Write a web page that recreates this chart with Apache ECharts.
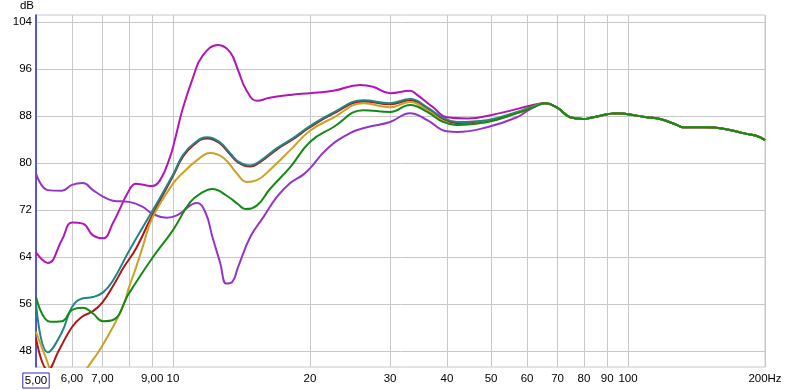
<!DOCTYPE html>
<html>
<head>
<meta charset="utf-8">
<script src="https://cdn.jsdelivr.net/npm/echarts@6/dist/echarts.min.js"></script>
<style>html,body{margin:0;padding:0;background:#fff}#c{width:800px;height:390px}</style>
</head>
<body>
<div id="c"></div>
<script>
// Tick positions / labels
const xTickHz = [5,6,7,8,9,10,20,30,40,50,60,70,80,90,100,200];
const xLabelHz = [5,6,7,9,10,20,30,40,50,60,70,80,90,100,200];
const yTickDb = [48,56,64,72,80,88,96,104];

// Shared high-frequency tail (curves converge)
const tailHz = [65.7,70,74.6,79.7,83.8,90,94.6,100,110,117.6,128,132,149,163,179,192,200];
const tailDb = [90.2,89.4,87.8,87.5,87.8,88.3,88.5,88.3,87.8,87.5,86.5,86.1,86.1,85.8,85.1,84.6,83.9];

const magentaHz = [5.0,5.31,5.70,6.0,6.34,6.67,7.02,7.38,8.0,8.29,8.6,9.0,9.37,9.85,10.1,10.5,11.07,11.6,12.56,13.35,13.9,14.5,15.3,16.3,18.1,20,22.5,25.8,27.5,30,33.2,34.4,37.3,40,44.3,52.3,61.8];
const magentaDb = [64.8,63.0,66.9,69.9,69.7,67.7,67.2,69.8,75.3,76.5,76.3,76.1,77.1,81.0,84.0,89.2,94.6,98.2,100.1,98.9,95.8,92.4,90.6,91.1,91.6,91.9,92.3,93.3,93.0,91.9,92.3,91.6,89.5,87.8,87.6,88.5,89.9];

const purpleHz = [5.0,5.31,5.70,6.0,6.34,6.67,7.02,7.38,8.0,8.6,9.0,9.68,10.2,11.3,11.8,12.2,12.7,13.1,13.5,13.9,14.8,15.8,16.9,18.1,19.3,20,21.8,24.5,26.7,30,33.2,36.2,40,42.1,49,57,61];
const purpleDb = [78.2,75.4,75.3,76.3,76.6,75.4,74.3,73.6,73.4,72.5,71.4,70.7,71.1,73.2,71.5,67.5,63.0,59.5,59.8,62.3,67.5,70.8,74.2,76.6,78.0,79.1,82.4,85.1,86.1,87.0,88.5,87.3,85.4,85.3,86.1,87.8,89.2];

const redHz = [5.0,5.31,5.62,6.0,6.3,6.67,7.0,7.4,7.8,8.3,9.0,10.0,10.5,11.1,11.9,12.6,13.35,13.9,14.8,15.5,16.9,18.4,20,22.5,26.2,30,33.2,36.2,39.2,42.1,49,57,62];
const redDb = [50.2,44.8,48.2,52.1,53.8,54.8,56.3,59.2,62.3,65.5,71.1,77.8,81.0,83.1,84.2,83.5,81.5,80.1,79.4,80.1,82.3,84.1,86.1,88.4,90.5,90.0,90.7,89.3,87.5,86.8,87.1,88.5,89.6];

const tealHz = [5.0,5.31,5.70,6.0,6.34,6.67,7.02,7.38,8.0,9.0,10.0,10.5,11.1,11.9,12.6,13.35,13.9,14.8,15.5,16.9,18.4,20,22.5,26.2,30,33.2,36.2,39.2,42.1,49,57,62];
const tealDb = [56.2,47.8,51.2,55.5,57.0,57.2,58.0,60.0,65.0,71.8,78.0,81.3,83.3,84.4,83.7,81.7,80.3,79.6,80.3,82.5,84.3,86.3,88.6,90.7,90.2,90.9,89.5,87.7,87.0,87.3,88.7,89.7];

const goldHz = [5.0,5.25,5.5,6.0,6.5,6.9,7.38,7.8,8.0,8.3,8.6,9.0,10.0,10.5,11.3,12.07,12.9,13.8,14.5,15.3,16.3,18.1,20,22.5,26.2,30,33.2,36.2,39.2,42.1,49,57,62];
const goldDb = [51.3,47.0,43.5,41.5,45.3,48.2,52.1,56.0,58.8,62.3,66.0,70.6,76.5,78.3,80.5,81.7,80.9,78.3,76.8,77.1,78.8,82.2,85.5,87.7,90.2,89.5,90.4,89.0,87.2,86.5,87.0,88.5,89.6];

const greenHz = [5.0,5.37,5.7,6.0,6.34,6.67,7.02,7.38,8.0,9.0,10.0,10.9,11.6,12.2,13.15,13.9,14.4,15.3,16.3,18.1,20,22.5,26.2,30,33.2,36.2,39.2,42.1,49,57,62];
const greenDb = [57.2,53.0,53.1,55.0,55.4,54.4,53.1,53.3,57.8,63.8,68.6,73.3,75.0,75.6,74.4,73.0,72.2,72.8,75.5,79.3,83.6,86.1,89.0,88.7,89.9,88.7,87.0,86.5,87.0,88.5,89.5];

function pairs(hz, db) {
  const h = hz.concat(tailHz), d = db.concat(tailDb);
  return h.map((f, i) => [f, d[i]]);
}

function line(name, color, hz, db) {
  return {
    name: name, type: 'line', data: pairs(hz, db),
    showSymbol: false, symbol: 'none', smooth: 0.45,
    lineStyle: { color: color, width: 2 }, itemStyle: { color: color },
    clip: true, silent: true
  };
}

const chart = echarts.init(document.getElementById('c'), null, { renderer: 'canvas' });
const font = 'Liberation Sans';
chart.setOption({
  animation: false,
  backgroundColor: '#fff',
  grid: { left: 36, right: 35, top: 15, bottom: 23, show: true, borderColor: '#c8c8c8', borderWidth: 1 },
  xAxis: {
    type: 'log', logBase: 10, min: 5, max: 200,
    axisLine: { show: false },
    axisTick: { show: false, customValues: xTickHz },
    splitLine: { show: true, lineStyle: { color: '#c8c8c8', width: 1 } },
    axisLabel: {
      customValues: xLabelHz, color: '#000', fontFamily: font, fontSize: 11.5, margin: 6,
      formatter: function (v) {
        const r = Math.round(v * 100) / 100;
        if (Math.abs(r - 5) < 0.01) return '{box|5,00}';
        if (r < 10) return r.toFixed(2).replace('.', ',');
        if (Math.abs(r - 200) < 0.5) return '200Hz';
        return String(Math.round(r));
      },
      rich: {
        box: { borderColor: '#2a2ad8', borderWidth: 1, padding: [2, 2, 1, 2], color: '#000', fontFamily: font, fontSize: 11.5 }
      }
    }
  },
  yAxis: {
    type: 'value', min: 45.3, max: 105.2,
    name: 'dB', nameLocation: 'end', nameGap: 3,
    nameTextStyle: { color: '#000', fontFamily: font, fontSize: 11.5, align: 'right', padding: [0, 2, 0, 0] },
    axisLine: { show: true, lineStyle: { color: '#2a2ad8', width: 1.5 } },
    axisTick: { show: false, customValues: yTickDb },
    axisLabel: { customValues: yTickDb, color: '#000', fontFamily: font, fontSize: 11.5, margin: 4 },
    splitLine: { show: true, lineStyle: { color: '#c8c8c8', width: 1 } }
  },
  series: [
    line('magenta', '#b316b8', magentaHz, magentaDb),
    line('purple', '#9535c8', purpleHz, purpleDb),
    line('red', '#b31515', redHz, redDb),
    line('teal', '#1f8585', tealHz, tealDb),
    line('gold', '#c9a227', goldHz, goldDb),
    line('green', '#148a14', greenHz, greenDb)
  ]
});
</script>
</body>
</html>
